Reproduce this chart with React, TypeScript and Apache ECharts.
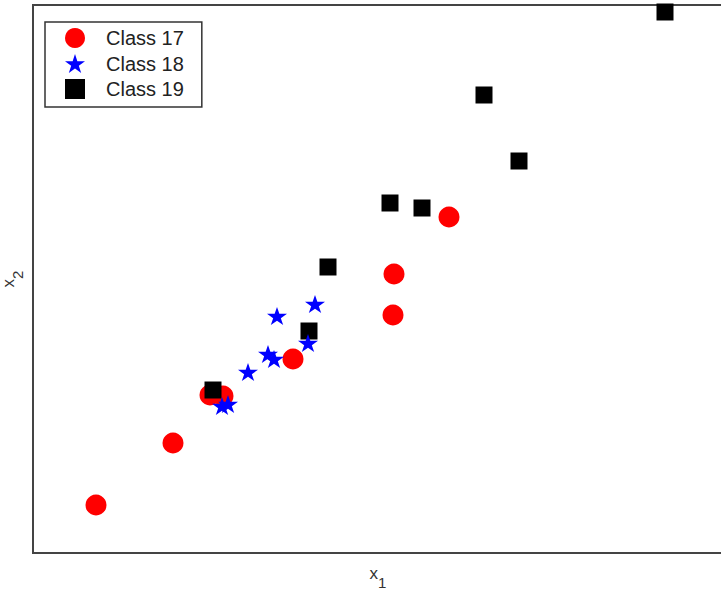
import React, { useEffect, useRef } from "react";
import * as echarts from "echarts";

const class17: [number, number][] = [
  [0.63, 0.48], [1.40, 1.10], [1.77, 1.58], [1.90, 1.57],
  [2.60, 1.94], [3.60, 2.38], [3.61, 2.79], [4.16, 3.36],
];
const class18: [number, number][] = [
  [2.44, 2.37], [2.82, 2.49], [2.75, 2.10], [2.35, 1.99],
  [2.41, 1.94], [2.15, 1.81], [1.89, 1.47], [1.95, 1.49],
];
const class19: [number, number][] = [
  [1.80, 1.63], [2.76, 2.22], [2.95, 2.86], [3.57, 3.50],
  [3.89, 3.45], [4.51, 4.58], [4.86, 3.92], [6.32, 5.41],
];
const seriesNames = ["Class 17", "Class 18", "Class 19"];

const STAR = "path://M50,0 L61.2,34.5 L97.6,34.5 L68.2,55.9 L79.4,90.5 L50,69.1 L20.6,90.5 L31.8,55.9 L2.4,34.5 L38.8,34.5 Z";

const nameRich = {
  a: { fontFamily: "Liberation Sans", fontSize: 17, lineHeight: 17, verticalAlign: "top", color: "#333" },
  b: { fontFamily: "Liberation Sans", fontSize: 15, lineHeight: 25, verticalAlign: "bottom", color: "#333" },
};

export default function App() {
  const ref = useRef<HTMLDivElement>(null);
  useEffect(() => {
    const chart = echarts.init(ref.current!, null, { renderer: "svg" });
    chart.setOption({
      animation: false,
      backgroundColor: "#fff",
      grid: {
        left: 33, top: 5, width: 700, height: 548,
        containLabel: false, outerBoundsMode: "none",
        show: true, borderColor: "#444", borderWidth: 2, backgroundColor: "transparent",
      },
      legend: {
        orient: "vertical",
        left: 45, top: 22,
        data: [
          { name: seriesNames[0], icon: "circle" },
          { name: seriesNames[1], icon: STAR },
          { name: seriesNames[2], icon: "rect" },
        ],
        itemWidth: 20, itemHeight: 20, itemGap: 5.5,
        padding: [6, 18, 8, 20],
        borderColor: "#333", borderWidth: 1.5,
        backgroundColor: "#fff",
        textStyle: { fontFamily: "Liberation Sans", fontSize: 20, color: "#222", padding: [0, 0, 0, 16] },
      },
      xAxis: {
        type: "value", min: 0, max: 7.0,
        name: "{a|x}{b|1}", nameLocation: "middle", nameGap: 12,
        nameTextStyle: { rich: nameRich, padding: [0, 10, 0, 0] },
        axisLine: { show: false }, axisTick: { show: false },
        axisLabel: { show: false }, splitLine: { show: false },
      },
      yAxis: {
        type: "value", min: 0, max: 5.48,
        name: "{a|x}{b|2}", nameLocation: "middle", nameGap: 8,
        nameTextStyle: { rich: nameRich, padding: [0, 0, 0, 0] },
        axisLine: { show: false }, axisTick: { show: false },
        axisLabel: { show: false }, splitLine: { show: false },
      },
      series: [
        {
          name: seriesNames[0], type: "scatter", data: class17, symbol: "circle",
          symbolSize: 21, itemStyle: { color: "#ff0000", opacity: 1 }, z: 2, clip: false,
        },
        {
          name: seriesNames[1], type: "scatter", data: class18, symbol: STAR,
          symbolSize: [20, 19], symbolKeepAspect: true,
          itemStyle: { color: "#0000ff", opacity: 1 }, z: 4, clip: false,
        },
        {
          name: seriesNames[2], type: "scatter", data: class19, symbol: "rect",
          symbolSize: 17, itemStyle: { color: "#000000", opacity: 1 }, z: 3, clip: false,
        },
      ],
    });
    return () => chart.dispose();
  }, []);
  return (
    <div
      ref={ref}
      style={{ position: "fixed", left: 0, top: 0, width: 721, height: 593 }}
    />
  );
}
